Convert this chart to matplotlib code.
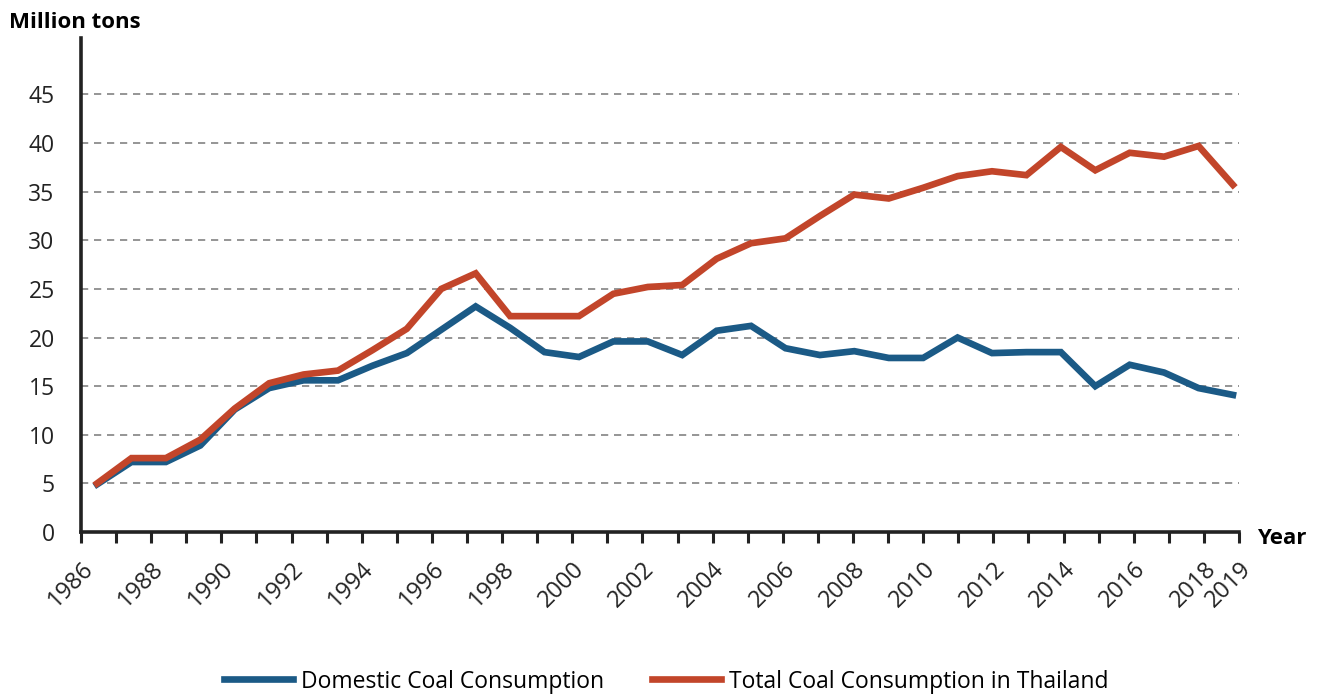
import matplotlib.pyplot as plt
import numpy as np

plt.rcParams['font.family'] = ['Open Sans', 'DejaVu Sans']

years = list(range(1986, 2020))
domestic = [4.9, 7.2, 7.2, 8.9, 12.6, 14.8, 15.6, 15.6, 17.1, 18.4, 20.8, 23.2,
            21.0, 18.5, 18.0, 19.6, 19.6, 18.2, 20.7, 21.2, 18.9, 18.2, 18.6, 17.9,
            17.9, 20.0, 18.4, 18.5, 18.5, 15.0, 17.2, 16.4, 14.8, 14.1]
total = [5.0, 7.6, 7.6, 9.5, 12.7, 15.3, 16.2, 16.6, 18.7, 20.9, 25.0, 26.6,
         22.2, 22.2, 22.2, 24.5, 25.2, 25.4, 28.1, 29.7, 30.2, 32.5, 34.7, 34.3,
         35.4, 36.6, 37.1, 36.7, 39.6, 37.2, 39.0, 38.6, 39.7, 35.7]
yticks = [0, 5, 10, 15, 20, 25, 30, 35, 40, 45]
xtick_labels = [str(y) if (y % 2 == 0 or y == 2019) else '' for y in years]

blue = '#1b5a86'
red = '#c2452a'

fig = plt.figure(figsize=(13.2, 6.94), dpi=100)
ax = fig.add_axes([0.0614, 0.2334, 0.8772, 0.7118])

ax.plot(years, domestic, color=blue, lw=4.8, solid_joinstyle='miter',
        label='Domestic Coal Consumption', zorder=3)
ax.plot(years, total, color=red, lw=4.8, solid_joinstyle='miter',
        label='Total Coal Consumption in Thailand', zorder=4)

# the tick marks sit slightly off the data points, like the source workbook
x0 = 1986 - 16 / 34.42
x1 = 2019 + 6 / 34.42
ax.set_xlim(x0, x1)
ax.set_ylim(0, 50.8)
ax.set_xticks(np.linspace(x0, x1, len(years)))
ax.set_xticklabels(xtick_labels, rotation=45, ha='right', rotation_mode='anchor',
                   fontsize=17, color='#222222')
ax.set_yticks(yticks)
ax.set_yticklabels([str(v) for v in yticks], fontsize=16.5, color='#222222')

for v in yticks[1:]:
    ax.axhline(v, color='#8c8c8c', lw=1.3, ls=(0, (4, 3.2)), zorder=1)

for s in ['top', 'right']:
    ax.spines[s].set_visible(False)
ax.spines['left'].set_linewidth(2.6)
ax.spines['bottom'].set_linewidth(2.6)
ax.spines['left'].set_color('#222222')
ax.spines['bottom'].set_color('#222222')
ax.tick_params(axis='x', direction='out', length=8, width=2.2, color='#222222', pad=10)
ax.tick_params(axis='y', length=0, pad=19)

fig.text(0.007, 0.968, 'Million tons', fontsize=16, fontweight='bold', va='center')
fig.text(0.952, 0.224, 'Year', fontsize=16, fontweight='bold', va='center')

fig.legend(loc='center', bbox_to_anchor=(0.505, 0.018), ncol=2, frameon=False,
           fontsize=16.5, handlelength=3.0, columnspacing=2.1, handletextpad=0.35)

fig.savefig('out.png', dpi=100, facecolor='white')
